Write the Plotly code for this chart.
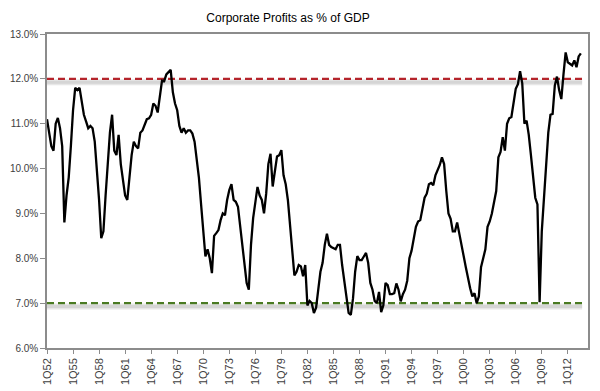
import plotly.graph_objects as go

# Quarterly corporate profits as % of GDP, 1Q52 .. 3Q13
profits_pct = [
    11.1, 10.8, 10.5, 10.4, 11.0, 11.13, 10.9, 10.5, 8.8, 9.4,
    9.8, 10.5, 11.3, 11.8, 11.75, 11.8, 11.5, 11.2, 11.05, 10.9,
    10.95, 10.9, 10.6, 10.0, 9.3, 8.45, 8.6, 9.4, 10.2, 10.8,
    11.2, 10.4, 10.3, 10.75, 10.1, 9.75, 9.4, 9.3, 9.9, 10.3,
    10.6, 10.5, 10.45, 10.8, 10.85, 11.0, 11.1, 11.12, 11.2, 11.45,
    11.4, 11.25, 11.6, 11.96, 11.95, 12.1, 12.15, 12.2, 11.7, 11.45,
    11.3, 10.95, 10.8, 10.9, 10.8, 10.85, 10.85, 10.78, 10.6, 10.2,
    9.8, 9.2, 8.55, 8.04, 8.2, 8.0, 7.67, 8.5, 8.56, 8.63,
    8.85, 9.0, 8.96, 9.3, 9.52, 9.65, 9.3, 9.26, 9.15, 8.7,
    8.3, 7.8, 7.45, 7.3, 8.3, 8.9, 9.3, 9.59, 9.4, 9.3,
    9.0, 9.44, 10.1, 10.33, 9.6, 10.0, 10.27, 10.3, 10.41, 9.85,
    9.65, 9.3, 8.7, 8.3, 7.62, 7.7, 7.85, 7.82, 7.6, 7.85,
    6.95, 7.05, 7.0, 6.78, 6.9, 7.3, 7.7, 7.9, 8.3, 8.55,
    8.3, 8.25, 8.22, 8.2, 8.3, 8.3, 7.85, 7.5, 7.05, 6.78,
    6.74, 7.1, 7.7, 8.05, 7.96, 7.96, 8.04, 8.12, 7.9, 7.45,
    7.3, 7.05, 7.0, 7.25, 6.8, 6.95, 7.45, 7.4, 7.2, 7.2,
    7.22, 7.44, 7.3, 7.04, 7.2, 7.3, 7.5, 8.0, 8.17, 8.4,
    8.7, 8.82, 8.85, 9.1, 9.35, 9.44, 9.65, 9.68, 9.63, 9.85,
    9.96, 10.08, 10.25, 10.1, 9.5, 9.0, 8.88, 8.6, 8.6, 8.8,
    8.55, 8.25, 8.05, 7.8, 7.55, 7.33, 7.15, 7.22, 7.0, 7.15,
    7.8, 8.04, 8.2, 8.7, 8.82, 9.0, 9.25, 9.5, 10.25, 10.37,
    10.7, 10.4, 11.0, 11.12, 11.15, 11.5, 11.78, 11.88, 12.17, 11.9,
    11.0, 11.07, 10.75, 10.3, 9.8, 9.35, 9.2, 7.02, 8.6, 9.4,
    10.2, 10.8, 11.2, 11.22, 11.85, 12.05, 11.75, 11.55, 12.1, 12.59,
    12.37, 12.33, 12.3, 12.41, 12.26, 12.5, 12.57,
]

# Quarter labels
quarter_labels = []
for yr in range(1952, 2014):
    for qn in range(1, 5):
        quarter_labels.append(f"{qn}Q{yr % 100:02d}")
quarter_labels = quarter_labels[:len(profits_pct)]

tick_labels = ["1Q52", "1Q55", "1Q58", "1Q61", "1Q64", "1Q67", "1Q70", "1Q73",
               "1Q76", "1Q79", "1Q82", "1Q85", "1Q88", "1Q91", "1Q94", "1Q97",
               "1Q00", "1Q03", "1Q06", "1Q09", "1Q12"]
tick_positions = [quarter_labels.index(t) for t in tick_labels]

upper_level = 12.0
lower_level = 7.0

y_ticks = [6, 7, 8, 9, 10, 11, 12, 13]
y_tick_text = [f"{v:.1f}%" for v in y_ticks]

x_idx = list(range(len(profits_pct)))
x_end = len(profits_pct) - 0.4

fig = go.Figure()

# soft shadows under reference lines
for lvl in (upper_level, lower_level):
    fig.add_trace(go.Scatter(
        x=[0, x_end], y=[lvl - 0.075, lvl - 0.075], mode="lines",
        line=dict(color="rgba(170,170,170,0.28)", width=6),
        hoverinfo="skip", showlegend=False))
    fig.add_trace(go.Scatter(
        x=[0, x_end], y=[lvl - 0.075, lvl - 0.075], mode="lines",
        line=dict(color="rgba(160,160,160,0.25)", width=3),
        hoverinfo="skip", showlegend=False))

fig.add_trace(go.Scatter(
    x=[0, x_end], y=[upper_level, upper_level], mode="lines",
    line=dict(color="#b5242b", width=2.2, dash="7px,4px"),
    hoverinfo="skip", showlegend=False))
fig.add_trace(go.Scatter(
    x=[0, x_end], y=[lower_level, lower_level], mode="lines",
    line=dict(color="#4a7a23", width=2.2, dash="7px,4px"),
    hoverinfo="skip", showlegend=False))

fig.add_trace(go.Scatter(
    x=x_idx, y=profits_pct, mode="lines",
    line=dict(color="#000000", width=2.3),
    text=quarter_labels, showlegend=False))

fig.update_layout(
    width=600, height=391,
    margin=dict(l=47, r=12, t=34, b=43, autoexpand=False),
    paper_bgcolor="white", plot_bgcolor="white",
    title=dict(text="Corporate Profits as % of GDP", x=0.48, xanchor="center",
               y=0.955, yanchor="middle", automargin=False,
               font=dict(family="Liberation Sans, Arial", size=12, color="#000000")),
    font=dict(family="Liberation Sans, Arial", size=10, color="#404040"),
)

fig.update_xaxes(
    range=[0, 249.3], tickmode="array", tickvals=tick_positions, ticktext=tick_labels,
    tickangle=-90, tickfont=dict(size=11, color="#404040"), automargin=False,
    showgrid=False, zeroline=False,
    showline=True, linecolor="#8c8c8c", linewidth=1.5, mirror=True,
    ticks="outside", ticklen=4, tickcolor="#8c8c8c",
)
fig.update_yaxes(
    range=[6, 13], tickmode="array", tickvals=y_ticks, ticktext=y_tick_text,
    tickfont=dict(size=10, color="#404040"), automargin=False,
    showgrid=False, zeroline=False,
    showline=True, linecolor="#8c8c8c", linewidth=1.5, mirror=True,
    ticks="outside", ticklen=5, tickcolor="#8c8c8c",
)

fig.write_html("out.html", config={"displayModeBar": False},
               post_script="document.body.style.margin='0';document.body.style.overflow='hidden';")
